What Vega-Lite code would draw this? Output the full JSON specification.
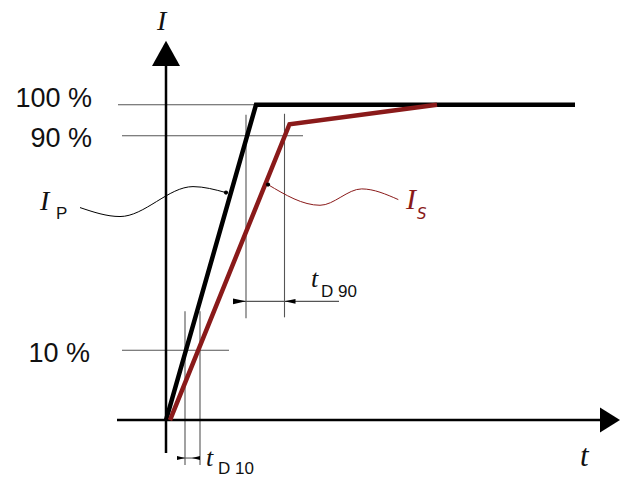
{
  "$schema": "https://vega.github.io/schema/vega-lite/v6.json",
  "width": 626,
  "height": 477,
  "autosize": {"type": "fit", "contains": "padding"},
  "padding": 0,
  "background": "white",
  "view": {"stroke": null},
  "encoding": {
    "x": {"field": "x", "type": "quantitative", "scale": {"domain": [-166, 460], "nice": false, "zero": false}, "axis": null},
    "y": {"field": "y", "type": "quantitative", "scale": {"domain": [-56, 421], "nice": false, "zero": false}, "axis": null}
  },
  "layer": [
    {
      "data": {"values": [
        {"x": -48, "x2": 90, "y": 316, "y2": 316},
        {"x": -44, "x2": 137, "y": 285, "y2": 285},
        {"x": -44, "x2": 63, "y": 70, "y2": 70},
        {"x": 80, "x2": 80, "y": 306, "y2": 102},
        {"x": 118.5, "x2": 118.5, "y": 307, "y2": 103},
        {"x": 19, "x2": 19, "y": 109, "y2": -45},
        {"x": 34, "x2": 34, "y": 109, "y2": -45},
        {"x": 67, "x2": 173, "y": 119, "y2": 119},
        {"x": 11, "x2": 34, "y": -38, "y2": -38}
      ]},
      "mark": {"type": "rule", "color": "#555555", "strokeWidth": 1.1},
      "encoding": {"x2": {"field": "x2"}, "y2": {"field": "y2"}}
    },
    {
      "data": {"values": [
        {"x": 0, "x2": 0, "y": -33, "y2": 360},
        {"x": -49, "x2": 436, "y": 0, "y2": 0}
      ]},
      "mark": {"type": "rule", "color": "black", "strokeWidth": 2.5},
      "encoding": {"x2": {"field": "x2"}, "y2": {"field": "y2"}}
    },
    {
      "data": {"values": [{"x": 0, "y": 367.5}]},
      "mark": {"type": "point", "shape": "M0,-0.9L1,0.9L-1,0.9Z", "size": 784, "filled": true, "color": "black", "opacity": 1, "strokeWidth": 0}
    },
    {
      "data": {"values": [{"x": 444, "y": 0}]},
      "mark": {"type": "point", "shape": "M0.8,0L-0.8,-1L-0.8,1Z", "size": 625, "filled": true, "color": "black", "opacity": 1, "strokeWidth": 0}
    },
    {
      "data": {"values": [{"x": 73.5, "y": 119}]},
      "mark": {"type": "point", "shape": "M1,0L-1,-0.45L-1,0.45Z", "size": 169, "filled": true, "color": "black", "opacity": 1, "strokeWidth": 0}
    },
    {
      "data": {"values": [{"x": 124, "y": 119}]},
      "mark": {"type": "point", "shape": "M-1,0L1,-0.45L1,0.45Z", "size": 121, "filled": true, "color": "black", "opacity": 1, "strokeWidth": 0}
    },
    {
      "data": {"values": [{"x": 15, "y": -38}]},
      "mark": {"type": "point", "shape": "M1,0L-1,-0.5L-1,0.5Z", "size": 64, "filled": true, "color": "black", "opacity": 1, "strokeWidth": 0}
    },
    {
      "data": {"values": [{"x": 30, "y": -38}]},
      "mark": {"type": "point", "shape": "M-1,0L1,-0.5L1,0.5Z", "size": 64, "filled": true, "color": "black", "opacity": 1, "strokeWidth": 0}
    },
    {
      "data": {"values": [
        {"x": 0, "y": 0},
        {"x": 90, "y": 316},
        {"x": 409, "y": 316}
      ]},
      "mark": {"type": "line", "color": "black", "strokeWidth": 4.5, "strokeJoin": "miter", "strokeCap": "butt"}
    },
    {
      "data": {"values": [
        {"x": 4, "y": 0},
        {"x": 123.5, "y": 296.5},
        {"x": 271, "y": 316}
      ]},
      "mark": {"type": "line", "color": "#8a1a1a", "strokeWidth": 4.5, "strokeJoin": "miter", "strokeCap": "butt"}
    },
    {
      "data": {"values": [
        {"x": -86, "y": 213},
        {"x": -46, "y": 204},
        {"x": 27, "y": 234},
        {"x": 60, "y": 228}
      ]},
      "mark": {"type": "line", "color": "black", "strokeWidth": 1, "interpolate": "monotone"}
    },
    {
      "data": {"values": [
        {"x": 102, "y": 236},
        {"x": 154, "y": 215.3},
        {"x": 195.7, "y": 231.7},
        {"x": 232.3, "y": 221}
      ]},
      "mark": {"type": "line", "color": "#8a1a1a", "strokeWidth": 1, "interpolate": "monotone"}
    },
    {
      "data": {"values": [{"x": 60, "y": 228}, {"x": 102, "y": 236}]},
      "mark": {"type": "point", "shape": "circle", "size": 18, "filled": true, "color": "black", "opacity": 1}
    },
    {
      "data": {"values": [
        {"x": -74, "y": 314, "label": "100 %"},
        {"x": -74, "y": 274, "label": "90 %"},
        {"x": -76, "y": 58, "label": "10 %"}
      ]},
      "mark": {"type": "text", "align": "right", "baseline": "alphabetic", "font": "Liberation Sans", "fontSize": 27, "color": "#111111"},
      "encoding": {"text": {"field": "label"}}
    },
    {
      "data": {"values": [
        {"x": -9, "y": 391, "label": "I"},
        {"x": -126, "y": 211, "label": "I"}
      ]},
      "mark": {"type": "text", "align": "left", "baseline": "alphabetic", "font": "Liberation Serif", "fontStyle": "italic", "fontSize": 28, "color": "#111111"},
      "encoding": {"text": {"field": "label"}}
    },
    {
      "data": {"values": [
        {"x": 145, "y": 133, "label": "t"},
        {"x": 40, "y": -45.7, "label": "t"}
      ]},
      "mark": {"type": "text", "align": "left", "baseline": "alphabetic", "font": "Liberation Serif", "fontStyle": "italic", "fontSize": 26, "color": "#111111"},
      "encoding": {"text": {"field": "label"}}
    },
    {
      "data": {"values": [{"x": 414, "y": -46, "label": "t"}]},
      "mark": {"type": "text", "align": "left", "baseline": "alphabetic", "font": "Liberation Serif", "fontStyle": "italic", "fontSize": 31, "color": "#111111"},
      "encoding": {"text": {"field": "label"}}
    },
    {
      "data": {"values": [
        {"x": -110, "y": 202, "label": "P"},
        {"x": 155, "y": 123.5, "label": "D 90"},
        {"x": 52, "y": -54, "label": "D 10"}
      ]},
      "mark": {"type": "text", "align": "left", "baseline": "alphabetic", "font": "Liberation Sans", "fontSize": 17, "color": "#111111"},
      "encoding": {"text": {"field": "label"}}
    },
    {
      "data": {"values": [{"x": 240, "y": 212, "label": "I"}]},
      "mark": {"type": "text", "align": "left", "baseline": "alphabetic", "font": "Liberation Serif", "fontStyle": "italic", "fontSize": 30, "color": "#8a1a1a"},
      "encoding": {"text": {"field": "label"}}
    },
    {
      "data": {"values": [{"x": 251, "y": 202, "label": "S"}]},
      "mark": {"type": "text", "align": "left", "baseline": "alphabetic", "font": "DejaVu Sans", "fontStyle": "italic", "fontSize": 15, "color": "#8a1a1a"},
      "encoding": {"text": {"field": "label"}}
    }
  ]
}
